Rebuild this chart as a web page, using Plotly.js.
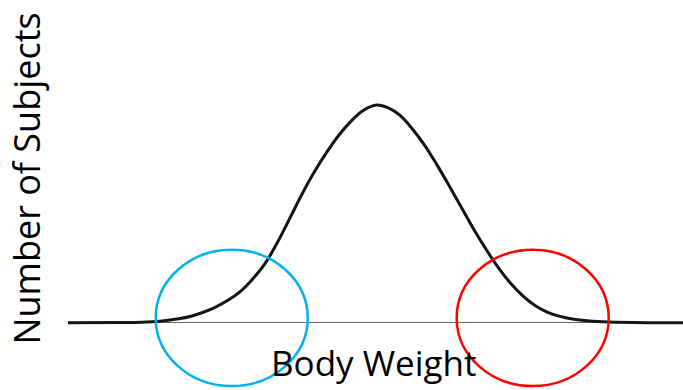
<!DOCTYPE html>
<html>
<head>
<meta charset="utf-8">
<script src="https://cdn.plot.ly/plotly-3.0.1.min.js"></script>
<style>html,body{margin:0;padding:0;background:#fff;}#chart{width:683px;height:390px;}</style>
</head>
<body>
<div id="chart"></div>
<script>
// Body weight (arbitrary units) and relative number of subjects
const bodyWeight = [0, 8, 12, 15, 18, 20, 22, 24, 26, 28, 30, 32, 34, 36, 38, 40, 42, 44, 46, 48, 50.2, 52, 54, 56, 58, 60, 62, 64, 66, 68, 70, 72, 74, 76, 78, 80, 82, 84, 87, 92, 100];
const subjects   = [0, 0.05, 0.2, 0.7, 1.8, 3.0, 4.8, 7.2, 10.3, 14.3, 20.0, 27.0, 36.6, 47.6, 58.8, 69.0, 78.0, 86.0, 92.5, 97.5, 100, 98.8, 95.2, 89.0, 81.5, 72.5, 62.8, 52.8, 42.8, 33.6, 25.2, 18.0, 12.2, 7.8, 4.8, 2.9, 1.7, 1.0, 0.45, 0.1, 0];

// Highlighted tail regions (ellipses): [left, right, bottom, top] in data units
const lowTail  = {x0: 14.26, x1: 38.98, y0: -29.1, y1: 33.5};
const highTail = {x0: 63.2,  x1: 87.92, y0: -29.1, y1: 33.5};

const xTitle = 'Body Weight';
const yTitle = 'Number of Subjects';

const trace = {
  x: bodyWeight, y: subjects, type: 'scatter', mode: 'lines',
  line: {color: '#151515', width: 3, shape: 'spline', smoothing: 1},
  hoverinfo: 'skip', showlegend: false
};

const layout = {
  width: 683, height: 390,
  margin: {l: 68, r: 0, t: 0, b: 0, pad: 0},
  paper_bgcolor: '#ffffff', plot_bgcolor: '#ffffff',
  xaxis: {range: [0, 100], showgrid: false, zeroline: false, showticklabels: false, ticks: '', showline: false, fixedrange: true},
  yaxis: {range: [-30.91, 148.23], showgrid: false, zeroline: true, zerolinecolor: '#666666', zerolinewidth: 1.5, showticklabels: false, ticks: '', showline: false, fixedrange: true},
  shapes: [
    {type: 'circle', xref: 'x', yref: 'y', x0: lowTail.x0, x1: lowTail.x1, y0: lowTail.y0, y1: lowTail.y1, line: {color: '#00b0f0', width: 2.5}, layer: 'above'},
    {type: 'circle', xref: 'x', yref: 'y', x0: highTail.x0, x1: highTail.x1, y0: highTail.y0, y1: highTail.y1, line: {color: '#ff0000', width: 2.5}, layer: 'above'}
  ],
  annotations: [
    {text: xTitle, xref: 'paper', yref: 'paper', x: 0.4967, y: 0.004, xanchor: 'center', yanchor: 'bottom', showarrow: false,
     font: {family: 'Open Sans, sans-serif', size: 35, color: '#000000'}},
    {text: yTitle, xref: 'paper', yref: 'paper', x: -0.0667, y: 0.542, xanchor: 'center', yanchor: 'middle', textangle: -90, showarrow: false,
     font: {family: 'Open Sans, sans-serif', size: 36, color: '#000000'}}
  ]
};

Plotly.newPlot('chart', [trace], layout, {displayModeBar: false, staticPlot: true});
</script>
</body>
</html>
